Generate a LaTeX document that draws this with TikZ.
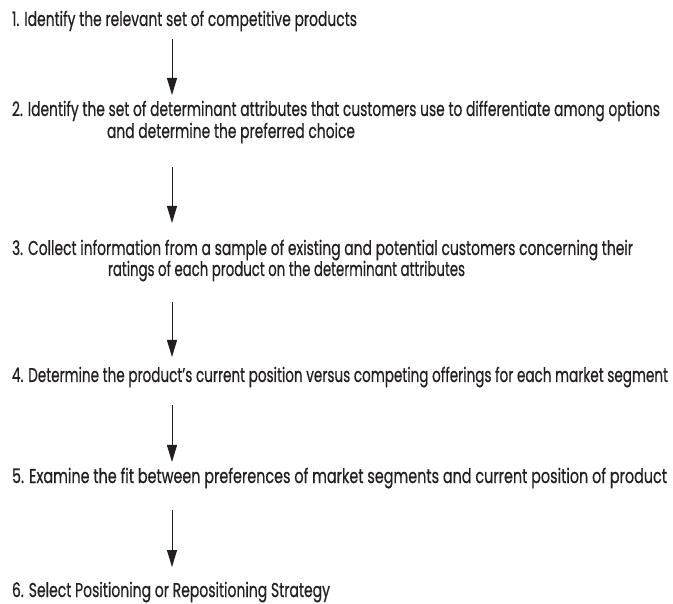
\documentclass[tikz,border=0pt]{standalone}
\usepackage{fontspec}
\usepackage{graphicx}
\setmainfont{Poppins}[FakeBold=0.6]
\usetikzlibrary{arrows.meta}
\definecolor{ink}{RGB}{35,31,32}
\newcommand{\stepfont}{\fontsize{20pt}{22pt}\selectfont}
\newsavebox\tmpbox
\newdimen\tmpw
% scale a line horizontally so that it is #1 pt wide
\newcommand{\fitto}[2]{\sbox\tmpbox{\stepfont #2}\tmpw=\wd\tmpbox
  \pgfmathsetmacro\tmpsx{#1/\the\tmpw}\scalebox{\tmpsx}[1]{\usebox\tmpbox}}
\tikzset{
  steptext/.style={anchor=base west, inner sep=0pt, outer sep=0pt, text=ink},
  flowarrow/.style={draw=ink, line width=1pt, -{Triangle[length=17pt,width=10pt]}}
}
\begin{document}
\begin{tikzpicture}[x=1pt,y=-1pt]
\useasboundingbox[fill=white] (0,0) rectangle (673,604);
\node[steptext] (s1) at (12,26) {\fitto{345}{1. Identify the relevant set of competitive products}};
\node[steptext] (s2a) at (12,116) {\fitto{648}{2. Identify the set of determinant attributes that customers use to differentiate among options}};
\node[steptext] (s2b) at (107,138) {\fitto{248}{and determine the preferred choice}};
\node[steptext] (s3a) at (12,255) {\fitto{621}{3. Collect information from a sample of existing and potential customers concerning their}};
\node[steptext] (s3b) at (108,276) {\fitto{357}{ratings of each product on the determinant attributes}};
\node[steptext] (s4) at (12,382) {\fitto{656}{4. Determine the product’s current position versus competing offerings for each market segment}};
\node[steptext] (s5) at (12,483) {\fitto{655}{5. Examine the fit between preferences of market segments and current position of product}};
\node[steptext] (s6) at (12,597) {\fitto{318}{6. Select Positioning or Repositioning Strategy}};
\coordinate (a1s) at (172,39);  \coordinate (a1e) at (172,95);
\coordinate (a2s) at (172,167); \coordinate (a2e) at (172,223);
\coordinate (a3s) at (172,302); \coordinate (a3e) at (172,357);
\coordinate (a4s) at (172,405); \coordinate (a4e) at (172,462);
\coordinate (a5s) at (172,510); \coordinate (a5e) at (172,567);
\draw[flowarrow] (a1s) -- (a1e);
\draw[flowarrow] (a2s) -- (a2e);
\draw[flowarrow] (a3s) -- (a3e);
\draw[flowarrow] (a4s) -- (a4e);
\draw[flowarrow] (a5s) -- (a5e);
\end{tikzpicture}
\end{document}
